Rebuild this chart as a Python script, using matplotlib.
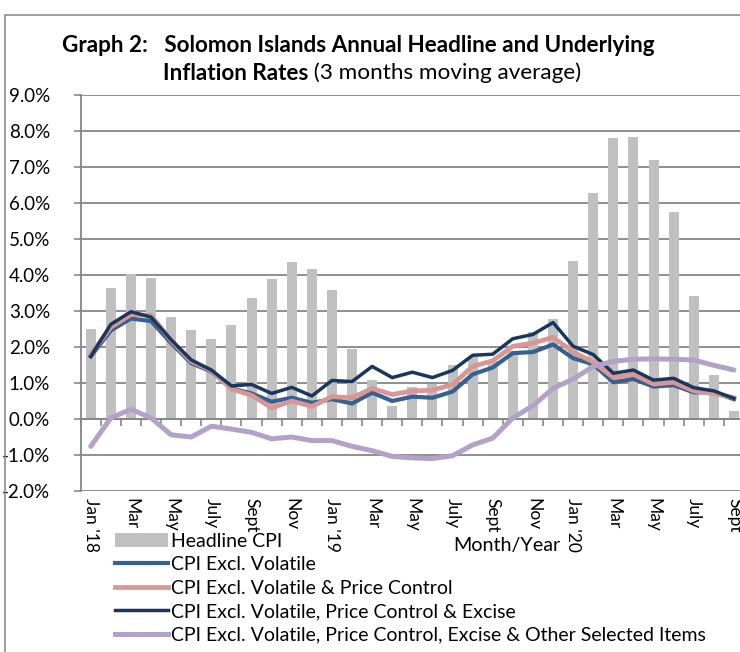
import numpy as np
import matplotlib.pyplot as plt
from matplotlib.patches import Rectangle, Patch
from matplotlib.lines import Line2D

# Month labels (every second month is labelled on the axis)
months = ["Jan '18", "Feb", "Mar", "Apr", "May", "Jun", "July", "Aug", "Sept", "Oct", "Nov", "Dec",
          "Jan '19", "Feb", "Mar", "Apr", "May", "Jun", "July", "Aug", "Sept", "Oct", "Nov", "Dec",
          "Jan '20", "Feb", "Mar", "Apr", "May", "Jun", "July", "Aug", "Sept"]

# Annual inflation rates, 3 months moving average (%)
headline = [2.49, 3.63, 4.02, 3.92, 2.83, 2.47, 2.23, 2.60, 3.35, 3.89, 4.37, 4.16,
            3.59, 1.94, 1.07, 0.37, 0.88, 0.96, 1.51, 1.71, 1.62, 1.88, 2.42, 2.79,
            4.39, 6.29, 7.80, 7.84, 7.20, 5.74, 3.41, 1.23, 0.22]
excl_volatile = [1.74, 2.46, 2.79, 2.72, 2.11, 1.55, 1.32, 0.85, 0.71, 0.48, 0.59, 0.45,
                 0.55, 0.43, 0.73, 0.50, 0.62, 0.59, 0.76, 1.24, 1.43, 1.83, 1.86, 2.07,
                 1.69, 1.52, 1.02, 1.11, 0.90, 0.94, 0.74, 0.74, 0.55]
excl_price_ctrl = [1.80, 2.55, 2.90, 2.88, 2.18, 1.60, 1.35, 0.83, 0.66, 0.31, 0.50, 0.35,
                   0.62, 0.59, 0.85, 0.68, 0.78, 0.80, 0.96, 1.46, 1.62, 2.02, 2.11, 2.27,
                   1.86, 1.58, 1.15, 1.24, 0.97, 1.02, 0.78, 0.71, 0.59]
excl_excise = [1.74, 2.63, 2.98, 2.83, 2.20, 1.64, 1.36, 0.92, 0.96, 0.71, 0.88, 0.64,
               1.07, 1.04, 1.46, 1.15, 1.30, 1.15, 1.35, 1.77, 1.80, 2.23, 2.35, 2.68,
               2.02, 1.79, 1.27, 1.36, 1.08, 1.13, 0.87, 0.78, 0.57]
excl_other = [-0.76, 0.03, 0.27, 0.03, -0.44, -0.50, -0.20, -0.28, -0.37, -0.55, -0.50, -0.60,
              -0.60, -0.76, -0.88, -1.04, -1.08, -1.10, -1.02, -0.72, -0.53, 0.03, 0.37, 0.85,
              1.11, 1.46, 1.60, 1.66, 1.67, 1.66, 1.64, 1.49, 1.36]

y_ticks = [-2, -1, 0, 1, 2, 3, 4, 5, 6, 7, 8, 9]

plt.rcParams['font.family'] = ['Lato', 'DejaVu Sans']

W, H = 740, 652
fig = plt.figure(figsize=(W / 100, H / 100), dpi=100)

# Outer chart frame (right and bottom edges fall outside the picture)
fig.patches.append(Rectangle((5 / W, -0.1), 2, 1 - 15 / H + 0.1, transform=fig.transFigure,
                             fill=False, edgecolor='#8c8c8c', lw=1.2))

ax = fig.add_axes([80.7 / W, 1 - 491 / H, (744 - 80.7) / W, (491 - 95) / H])
x = np.arange(len(months))
grid_c = '#868686'

ax.bar(x, headline, width=0.5, color='#c0c0c0', zorder=2)
ax.plot(x, excl_volatile, color='#376092', lw=3.0, zorder=3)
ax.plot(x, excl_price_ctrl, color='#d99694', lw=3.4, zorder=4)
ax.plot(x, excl_excise, color='#17375e', lw=2.5, zorder=5)
ax.plot(x, excl_other, color='#b3a2c7', lw=3.6, zorder=6, solid_capstyle='round')

ax.set_xlim(-0.5, len(months) - 0.5)
ax.set_ylim(-2, 9)
ax.set_yticks(y_ticks)
ax.set_yticklabels([f"{v:.1f}%" for v in y_ticks], fontsize=13.5)
ax.yaxis.grid(True, color=grid_c, lw=1.3, zorder=0)
ax.set_axisbelow(True)
ax.tick_params(axis='y', direction='out', length=5, color=grid_c, width=1.2, pad=17)

# Category axis crosses at zero with tick marks between months
ax.spines['bottom'].set_position(('data', 0))
ax.spines['bottom'].set_color(grid_c)
ax.spines['bottom'].set_linewidth(1.3)
ax.set_xticks(np.arange(-0.5, len(months), 1))
ax.set_xticklabels([])
ax.tick_params(axis='x', direction='out', length=5, color=grid_c, width=1.2)
ax.spines['left'].set_color(grid_c)
ax.spines['left'].set_linewidth(1.3)
ax.spines['top'].set_visible(False)
ax.spines['right'].set_visible(False)

# Month labels sit below the plot area
for i in range(0, len(months), 2):
    ax.text(i, -0.018, months[i], transform=ax.get_xaxis_transform(), rotation=-90,
            ha='center', va='top', fontsize=12.5)

# Title
fig.text(62 / W, 1 - 45 / H, "Graph 2:   Solomon Islands Annual Headline and Underlying",
         fontsize=16.2, fontweight='bold', va='center', ha='left')
t2 = fig.text(163 / W, 1 - 73 / H, "Inflation Rates", fontsize=16.2, fontweight='bold',
              va='center', ha='left')
fig.canvas.draw()
bb = t2.get_window_extent()
fig.text(bb.x1 / W, 1 - 73 / H, " (3 months moving average)", fontsize=16.2,
         va='center', ha='left')

fig.text(507 / W, 1 - 546 / H, "Month/Year", fontsize=14.2, ha='center', va='center')

handles = [Patch(facecolor='#c0c0c0', edgecolor='none'),
           Line2D([], [], color='#376092', lw=3.0),
           Line2D([], [], color='#d99694', lw=3.4),
           Line2D([], [], color='#17375e', lw=2.5),
           Line2D([], [], color='#b3a2c7', lw=3.6)]
labels = ["Headline CPI", "CPI Excl. Volatile", "CPI Excl. Volatile & Price Control",
          "CPI Excl. Volatile, Price Control & Excise",
          "CPI Excl. Volatile, Price Control, Excise & Other Selected Items"]
fig.legend(handles, labels, loc='upper left', bbox_to_anchor=(115 / W, 1 - 533 / H),
           frameon=False, fontsize=14.0, handlelength=2.7, handleheight=0.75,
           handletextpad=0.2, labelspacing=0.33, borderpad=0, borderaxespad=0)

fig.savefig("out.png", dpi=100)
